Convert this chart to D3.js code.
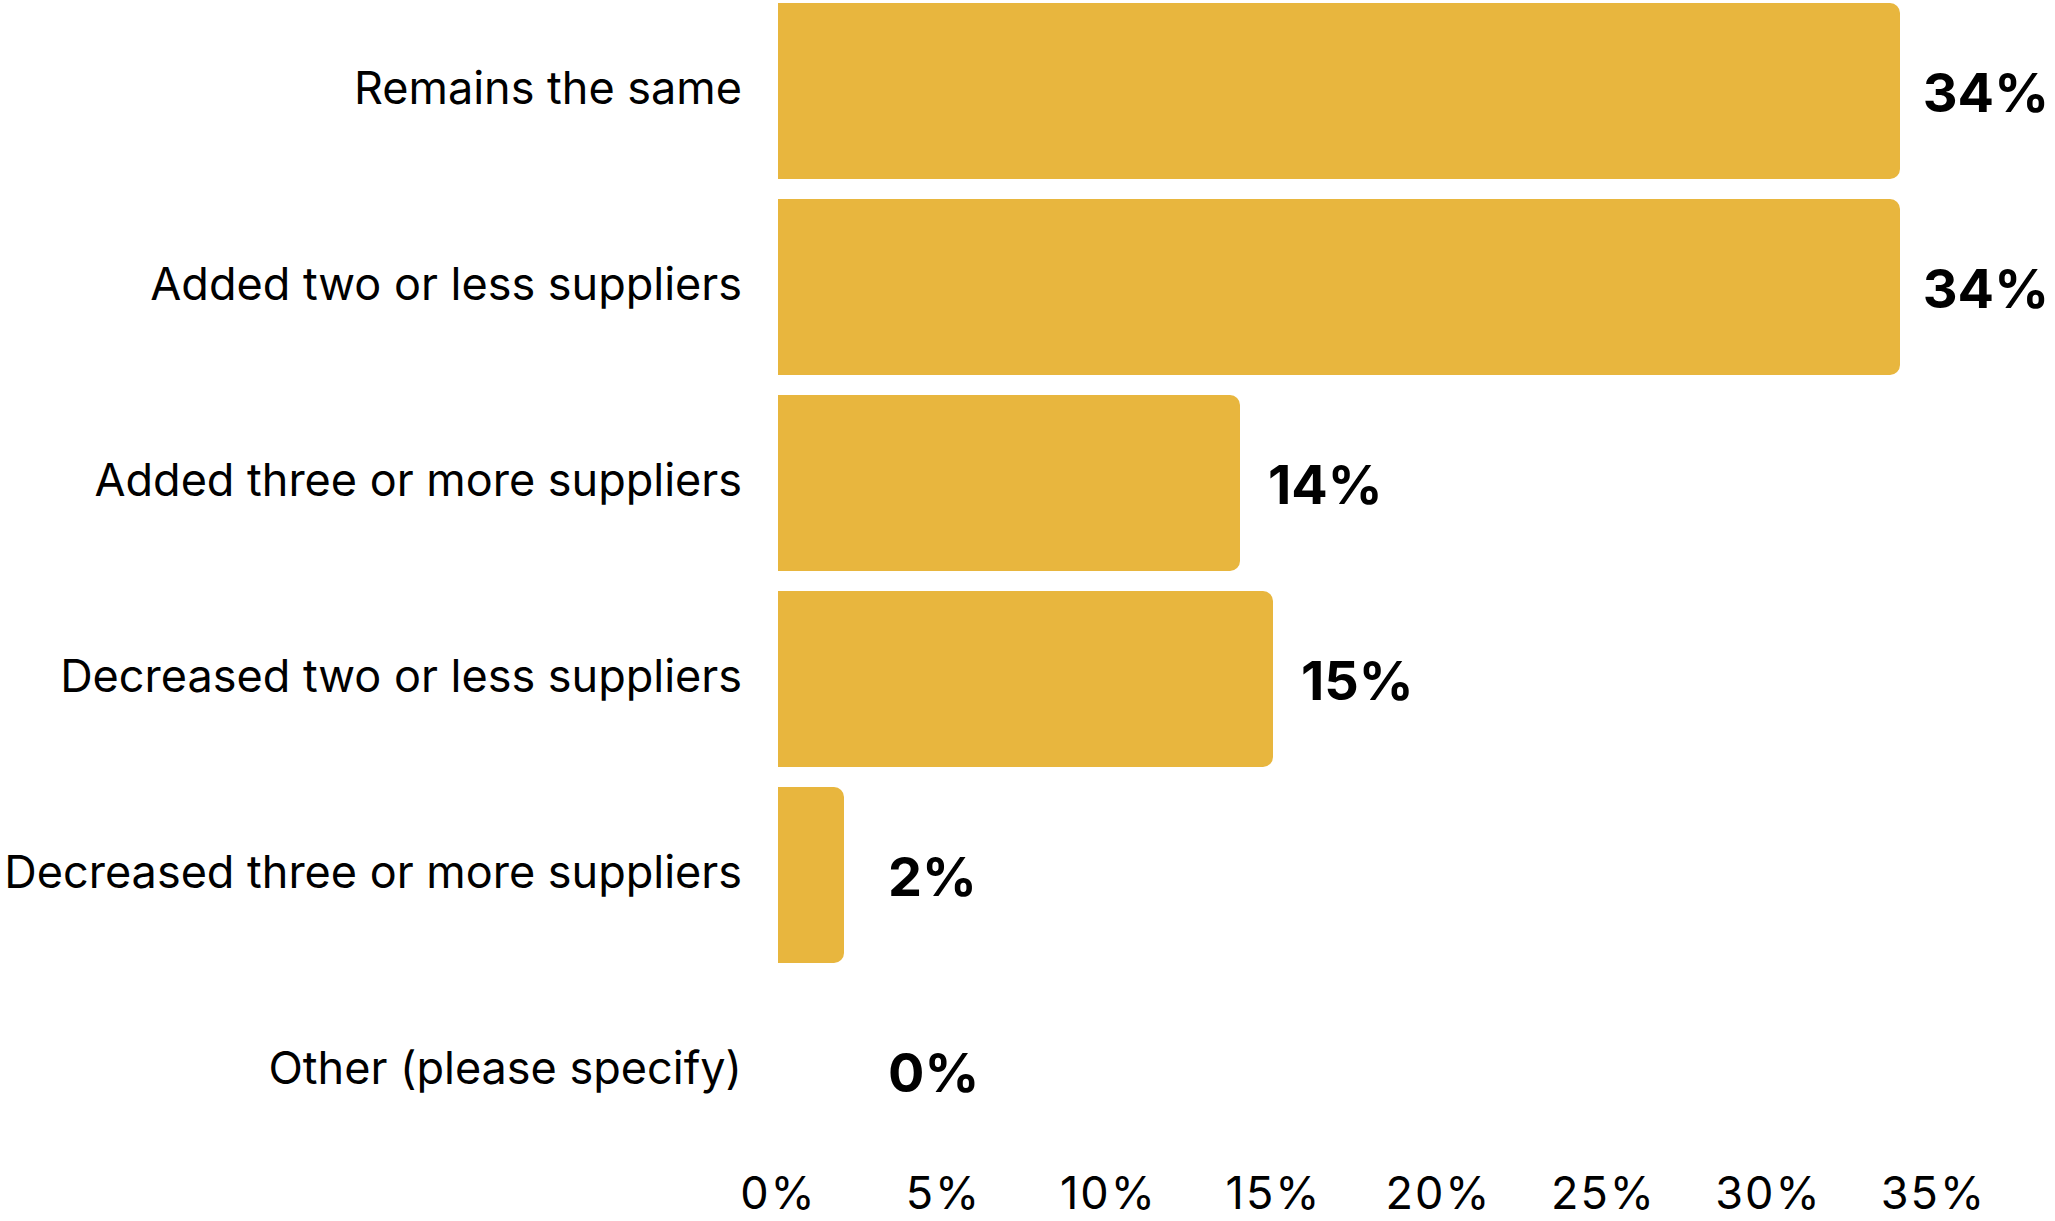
<!DOCTYPE html>
<html>
<head>
<meta charset="utf-8">
<script src="https://cdn.jsdelivr.net/npm/d3@7"></script>
<style>
  html, body { margin: 0; padding: 0; background: #ffffff; }
  svg { display: block; }
  text { font-family: "Inter", "Liberation Sans", Arial, sans-serif; fill: #000; }
</style>
</head>
<body>
<svg id="chart" width="2055" height="1221"></svg>
<script>
// Survey answers: change in number of suppliers
const categories = [
  "Remains the same",
  "Added two or less suppliers",
  "Added three or more suppliers",
  "Decreased two or less suppliers",
  "Decreased three or more suppliers",
  "Other (please specify)"
];
const values = [34, 34, 14, 15, 2, 0];
const tickValues = [0, 5, 10, 15, 20, 25, 30, 35];

const barColor = "#E8B63E";
const width = 2055;
const svg = d3.select("#chart");

const x = d3.scaleLinear().domain([0, 35]).range([778, 1933]);
const y = d3.scaleBand()
  .domain(categories)
  .range([3, 1159])
  .paddingInner(0.102)
  .paddingOuter(0);

const data = categories.map((c, i) => ({ category: c, value: values[i] }));

// Bars: square on the left, rounded on the right
function barPath(d) {
  const x0 = x(0), x1 = x(d.value);
  const y0 = y(d.category), h = y.bandwidth();
  const w = x1 - x0;
  if (w <= 0) return "";
  const r = Math.min(10, w / 2, h / 2);
  return `M${x0},${y0}` +
    `H${x1 - r}` +
    `A${r},${r} 0 0 1 ${x1},${y0 + r}` +
    `V${y0 + h - r}` +
    `A${r},${r} 0 0 1 ${x1 - r},${y0 + h}` +
    `H${x0}Z`;
}

svg.append("g").attr("class", "bars")
  .selectAll("path")
  .data(data)
  .join("path")
  .attr("d", barPath)
  .attr("fill", barColor);

// Category labels, right-aligned left of the bars
svg.append("g").attr("class", "cat-labels")
  .selectAll("text")
  .data(data)
  .join("text")
  .attr("x", 742)
  .attr("y", d => y(d.category) + y.bandwidth() / 2 + 13)
  .attr("text-anchor", "end")
  .attr("font-size", 45)
  .text(d => d.category);

// Value labels after each bar, kept inside the canvas
svg.append("g").attr("class", "value-labels")
  .selectAll("text")
  .data(data)
  .join("text")
  .attr("y", d => y(d.category) + y.bandwidth() / 2 + 21)
  .attr("font-size", 54)
  .attr("font-weight", 700)
  .text(d => d.value + "%")
  .attr("x", function (d) {
    const len = this.getComputedTextLength();
    const want = Math.max(x(d.value) + 28, x(0) + 110);
    return Math.min(want, width - len - 6);
  });

// Bottom axis: labels only
const axis = d3.axisBottom(x)
  .tickValues(tickValues)
  .tickSize(0)
  .tickPadding(0)
  .tickFormat(d => d + "%");

const gx = svg.append("g")
  .attr("class", "x-axis")
  .attr("transform", "translate(0,1209)")
  .call(axis);
gx.select(".domain").remove();
gx.selectAll("text")
  .attr("dy", 0)
  .attr("y", 0)
  .attr("font-size", 45)
  .attr("letter-spacing", 2)
  .style("font-family", "Inter, 'Liberation Sans', Arial, sans-serif")
  .style("fill", "#000");
</script>
</body>
</html>
